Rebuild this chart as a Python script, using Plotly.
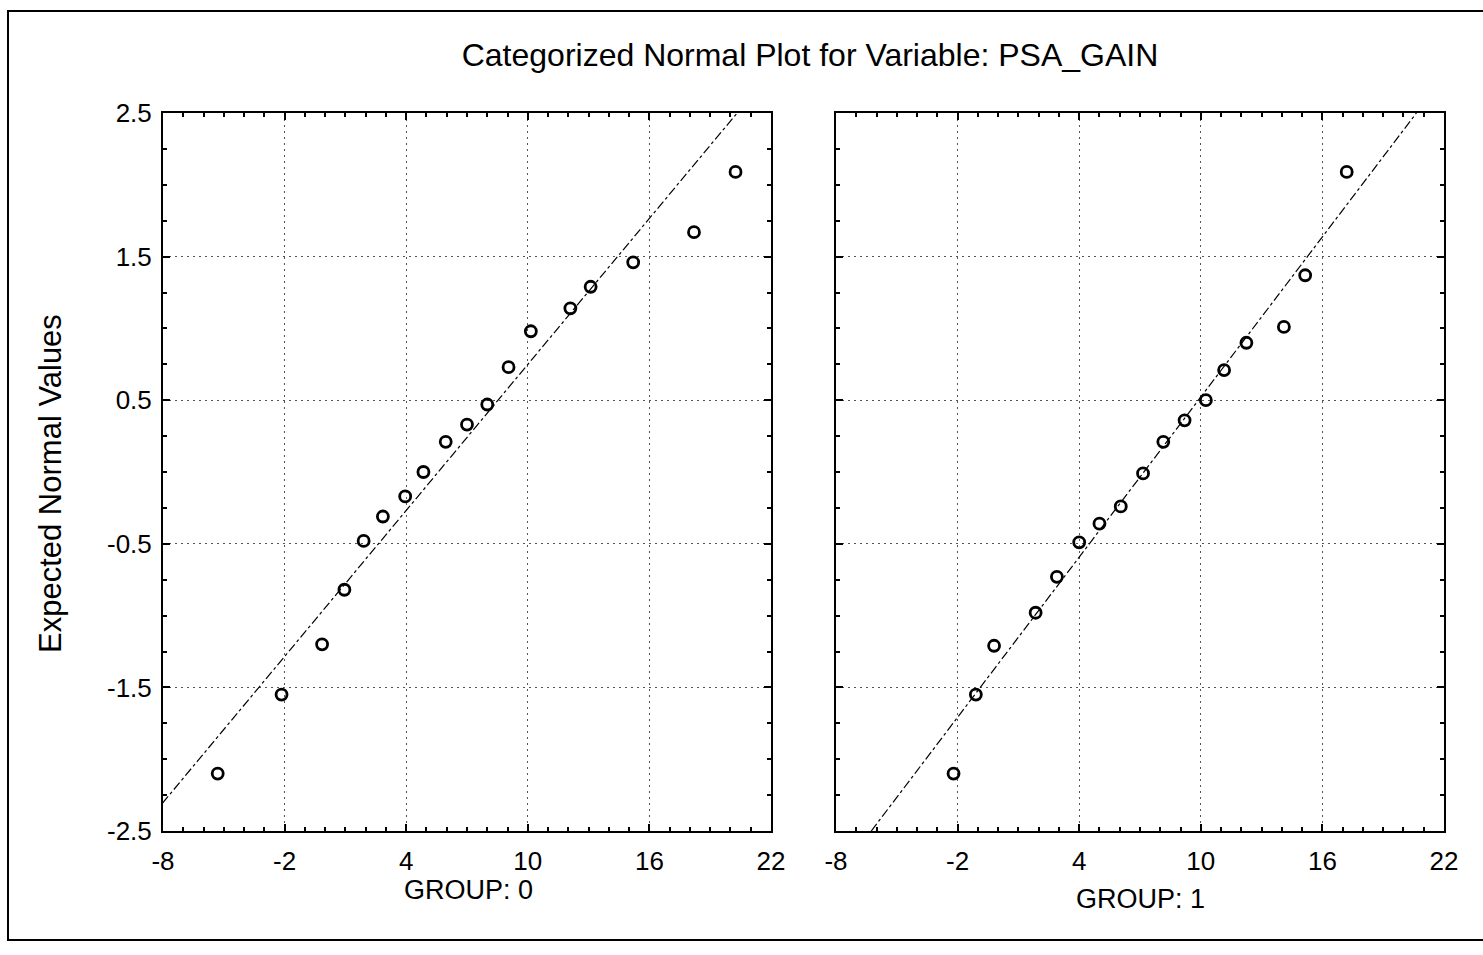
import plotly.graph_objects as go
from plotly.subplots import make_subplots

# ---- data ----
title_text = "Categorized Normal Plot for Variable: PSA_GAIN"
y_title = "Expected Normal Values"
group_labels = ["GROUP: 0", "GROUP: 1"]

x_ticks = [-8, -2, 4, 10, 16, 22]
x_ticktext = ["-8", "-2", "4", "10", "16", "22"]
y_ticks = [-2.5, -1.5, -0.5, 0.5, 1.5, 2.5]
y_ticktext = ["-2.5", "-1.5", "-0.5", "0.5", "1.5", "2.5"]

group0_x = [-5.3, -2.15, -0.15, 0.95, 1.9, 2.85, 3.95, 4.85, 5.95, 7.0, 8.0, 9.05, 10.15, 12.1, 13.1, 15.2, 18.2, 20.25]
group0_y = [-2.10, -1.55, -1.20, -0.82, -0.48, -0.31, -0.17, 0.0, 0.21, 0.33, 0.47, 0.73, 0.98, 1.14, 1.29, 1.46, 1.67, 2.09]

group1_x = [-2.2, -1.1, -0.2, 1.85, 2.9, 4.0, 5.0, 6.05, 7.15, 8.15, 9.2, 10.25, 11.15, 12.25, 14.1, 15.15, 17.2]
group1_y = [-2.10, -1.55, -1.21, -0.98, -0.73, -0.49, -0.36, -0.24, -0.01, 0.21, 0.36, 0.50, 0.71, 0.90, 1.01, 1.37, 2.09]

# normal fit lines: expected value = (x - mean) / sd
fit_mean = [5.58, 7.19]
fit_sd = [5.90, 5.38]

# ---- layout constants (pixels) ----
W, H = 1483, 955
ML, MR, MT, MB = 163, 38, 113, 124
PW = W - ML - MR
PH = H - MT - MB
p1 = (163, 771)
p2 = (836, 1444)

def px_x(p):
    return (p - ML) / PW

def px_y(p):
    return (H - MB - p) / PH

fig = make_subplots(rows=1, cols=2, horizontal_spacing=0.05)

groups = [(group0_x, group0_y), (group1_x, group1_y)]
for i, (gx, gy) in enumerate(groups):
    col = i + 1
    lx = [fit_mean[i] + fit_sd[i] * y_ticks[0], fit_mean[i] + fit_sd[i] * y_ticks[-1]]
    ly = [y_ticks[0], y_ticks[-1]]
    fig.add_trace(go.Scatter(x=lx, y=ly, mode="lines",
                             line=dict(color="black", width=1.2, dash="dashdot"),
                             showlegend=False, hoverinfo="skip"), row=1, col=col)
    fig.add_trace(go.Scatter(x=gx, y=gy, mode="markers",
                             marker=dict(symbol="circle-open", size=11, color="black",
                                         line=dict(width=2.8, color="black")),
                             showlegend=False), row=1, col=col)

font_family = "Liberation Sans, Arial, sans-serif"
axis_common = dict(
    showline=True, linecolor="black", linewidth=2, mirror="allticks",
    ticks="inside", ticklen=7, tickwidth=1.5, tickcolor="black",
    showgrid=True, gridcolor="#555", gridwidth=1, griddash="2px,4px",
    zeroline=False,
    tickfont=dict(family=font_family, size=26, color="black"),
)

for i, (a, b) in enumerate([p1, p2]):
    col = i + 1
    fig.update_xaxes(range=[x_ticks[0], x_ticks[-1]], tickvals=x_ticks, ticktext=x_ticktext,
                     domain=[px_x(a), px_x(b)],
                     minor=dict(dtick=1, ticks="inside", ticklen=4, tickcolor="black", showgrid=False),
                     ticklabelstandoff=6, row=1, col=col, **axis_common)
    fig.update_yaxes(range=[y_ticks[0], y_ticks[-1]], tickvals=y_ticks, ticktext=y_ticktext,
                     minor=dict(dtick=0.25, tick0=0.5, ticks="inside", ticklen=4, tickcolor="black", showgrid=False),
                     showticklabels=(col == 1), ticklabelstandoff=4,
                     row=1, col=col, **axis_common)

annotations = [
    dict(text=y_title, x=px_x(50), y=px_y(484), xref="paper", yref="paper",
         textangle=-90, showarrow=False, xanchor="center", yanchor="middle",
         font=dict(family=font_family, size=31, color="black")),
    dict(text=group_labels[0], x=px_x(468), y=px_y(890), xref="paper", yref="paper",
         showarrow=False, xanchor="center", yanchor="middle",
         font=dict(family=font_family, size=27, color="black")),
    dict(text=group_labels[1], x=px_x(1140), y=px_y(899), xref="paper", yref="paper",
         showarrow=False, xanchor="center", yanchor="middle",
         font=dict(family=font_family, size=27, color="black")),
]

shapes = [
    dict(type="rect", xref="paper", yref="paper",
         x0=px_x(8), x1=px_x(1500), y0=px_y(940), y1=px_y(11),
         line=dict(color="black", width=2), fillcolor="rgba(0,0,0,0)", layer="below"),
]

fig.update_layout(
    width=W, height=H,
    margin=dict(l=ML, r=MR, t=MT, b=MB),
    paper_bgcolor="white", plot_bgcolor="white",
    title=dict(text=title_text, x=810 / W, xanchor="center", y=1 - 55 / H, yanchor="middle",
               font=dict(family=font_family, size=32, color="black")),
    annotations=annotations, shapes=shapes,
    showlegend=False,
)

fig.write_html("out.html", config={"displayModeBar": False},
               post_script="document.body.style.margin='0px';document.body.style.overflow='hidden';")
